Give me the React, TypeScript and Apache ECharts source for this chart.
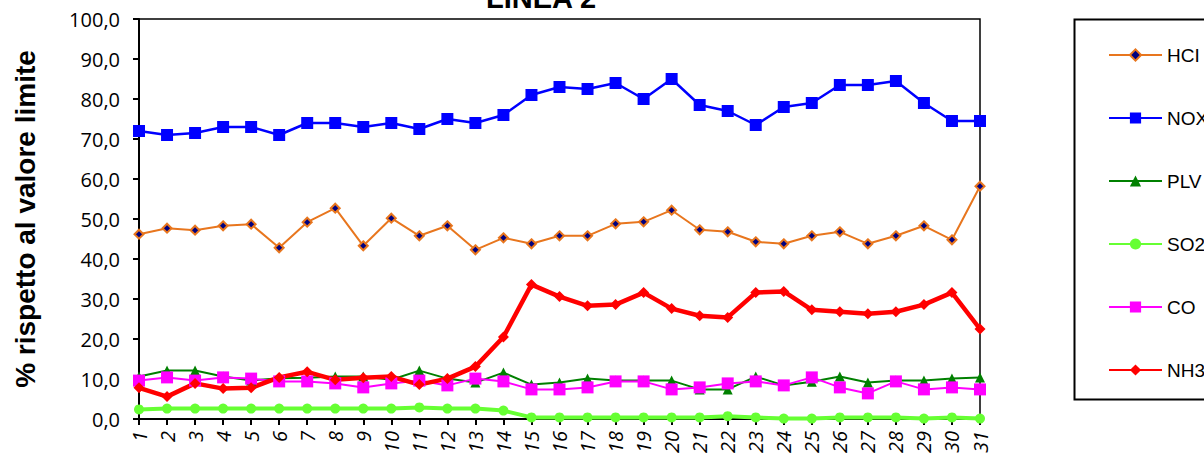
import React, { useEffect, useRef } from "react";
import * as echarts from "echarts";

const days = Array.from({ length: 31 }, (_, i) => String(i + 1));

const hcl = [46.2, 47.7, 47.2, 48.3, 48.7, 42.8, 49.2, 52.7, 43.3, 50.2, 45.8, 48.3, 42.3, 45.3, 43.8, 45.8,
  45.8, 48.8, 49.3, 52.2, 47.3, 46.8, 44.3, 43.8, 45.8, 46.8, 43.8, 45.8, 48.3, 44.8, 58.2];
const nox = [72, 71, 71.5, 73, 73, 71, 74, 74, 73, 74, 72.5, 75, 74, 76, 81, 83,
  82.5, 84, 80, 85, 78.5, 77, 73.5, 78, 79, 83.5, 83.5, 84.5, 79, 74.5, 74.5];
const plv = [10.6, 12.1, 12.1, 10.6, 9.6, 10.2, 10.3, 10.6, 10.6, 9.8, 12.1, 10.1, 9.1, 11.6, 8.6, 9.1,
  10.1, 9.6, 9.6, 9.6, 7.4, 7.4, 10.6, 8.4, 9.3, 10.6, 9.1, 9.6, 9.6, 10.1, 10.4];
const so2 = [2.4, 2.6, 2.6, 2.6, 2.6, 2.6, 2.6, 2.6, 2.6, 2.6, 2.9, 2.6, 2.6, 2.1, 0.4, 0.4,
  0.4, 0.4, 0.4, 0.4, 0.4, 0.7, 0.4, 0.1, 0.1, 0.4, 0.4, 0.4, 0.1, 0.4, 0.1];
const co = [9.6, 10.4, 9.6, 10.4, 10.1, 9.4, 9.4, 8.9, 7.9, 8.9, 9.6, 8.4, 10.1, 9.4, 7.4, 7.4,
  7.9, 9.4, 9.4, 7.4, 7.9, 8.9, 9.4, 8.4, 10.4, 7.9, 6.4, 9.4, 7.4, 7.9, 7.4];
const nh3 = [7.8, 5.6, 8.9, 7.6, 7.8, 10.4, 11.8, 9.8, 10.3, 10.6, 8.6, 10.1, 13.1, 20.5, 33.6, 30.6,
  28.3, 28.6, 31.6, 27.6, 25.8, 25.4, 31.6, 31.9, 27.3, 26.8, 26.3, 26.8, 28.6, 31.6, 22.5];

const seriesNames = ["HCI", "NOX", "PLV", "SO2", "CO", "NH3"];

export default function App() {
  const ref = useRef<HTMLDivElement>(null);
  useEffect(() => {
    if (!ref.current) return;
    const chart = echarts.init(ref.current, undefined, { renderer: "svg" });
    const mk = (name: string, data: number[], color: string, width: number, symbol: string, size: number) => ({
      name,
      type: "line",
      data,
      symbol,
      symbolSize: size,
      showSymbol: true,
      lineStyle: { color, width },
      itemStyle: { color },
      emphasis: { disabled: true },
    });
    chart.setOption({
      animation: false,
      backgroundColor: "#ffffff",
      title: {
        text: "LINEA 2",
        left: 536,
        textAlign: "center",
        top: -22,
        textStyle: { fontFamily: "Liberation Sans", fontWeight: "bold", fontSize: 29, color: "#000" },
      },
      grid: {
        left: 139,
        right: 224,
        top: 19,
        bottom: 43,
        show: true,
        borderColor: "#000",
        borderWidth: 1.5,
      },
      legend: {
        orient: "vertical",
        left: 1103,
        top: 40,
        itemWidth: 53,
        itemHeight: 14,
        itemGap: 43,
        data: seriesNames,
        textStyle: { fontFamily: "Liberation Sans", fontSize: 19, lineHeight: 20, color: "#000" },
      },
      graphic: [
        {
          type: "rect",
          left: 1072,
          top: 17,
          shape: { width: 150, height: 380 },
          style: { fill: "none", stroke: "#000", lineWidth: 2 },
          silent: true,
        },
      ],
      xAxis: {
        type: "category",
        data: days,
        boundaryGap: false,
        axisLine: { lineStyle: { color: "#000", width: 2 } },
        axisTick: { alignWithLabel: true, length: 6, lineStyle: { color: "#000", width: 2 } },
        axisLabel: {
          rotate: 90,
          interval: 0,
          margin: 12,
          formatter: (v: string) => "{d|" + v + "}",
          rich: { d: { fontFamily: "Open Sans", fontStyle: "italic", fontSize: 20, color: "#000" } },
        },
        splitLine: { show: false },
      },
      yAxis: {
        type: "value",
        min: 0,
        max: 100,
        interval: 10,
        name: "% rispetto al valore limite",
        nameLocation: "middle",
        nameGap: 100,
        nameTextStyle: { fontFamily: "Liberation Sans", fontWeight: "bold", fontSize: 28, color: "#000" },
        axisLine: { show: true, lineStyle: { color: "#000", width: 2 } },
        axisTick: { show: true, length: 6, lineStyle: { color: "#000", width: 2 } },
        axisLabel: {
          margin: 19,
          formatter: (v: number) => "{v|" + v.toFixed(1).replace(".", ",") + "}",
          rich: { v: { fontFamily: "Open Sans", fontSize: 20, color: "#000" } },
        },
        splitLine: { show: false },
      },
      series: [
        {
          ...mk("HCI", hcl, "#E8761E", 2, "diamond", 9),
          itemStyle: { color: "#000080", borderColor: "#E8761E", borderWidth: 2 },
        },
        mk("NOX", nox, "#0000FF", 2.5, "rect", 12),
        mk("PLV", plv, "#008000", 2, "triangle", 10),
        mk("SO2", so2, "#66FF33", 4, "circle", 10),
        mk("CO", co, "#FF00FF", 2, "rect", 12),
        mk("NH3", nh3, "#FF0000", 4.5, "diamond", 11),
      ],
    });
    return () => chart.dispose();
  }, []);
  return <div ref={ref} style={{ width: 1204, height: 462, position: "absolute", left: 0, top: 0 }} />;
}
